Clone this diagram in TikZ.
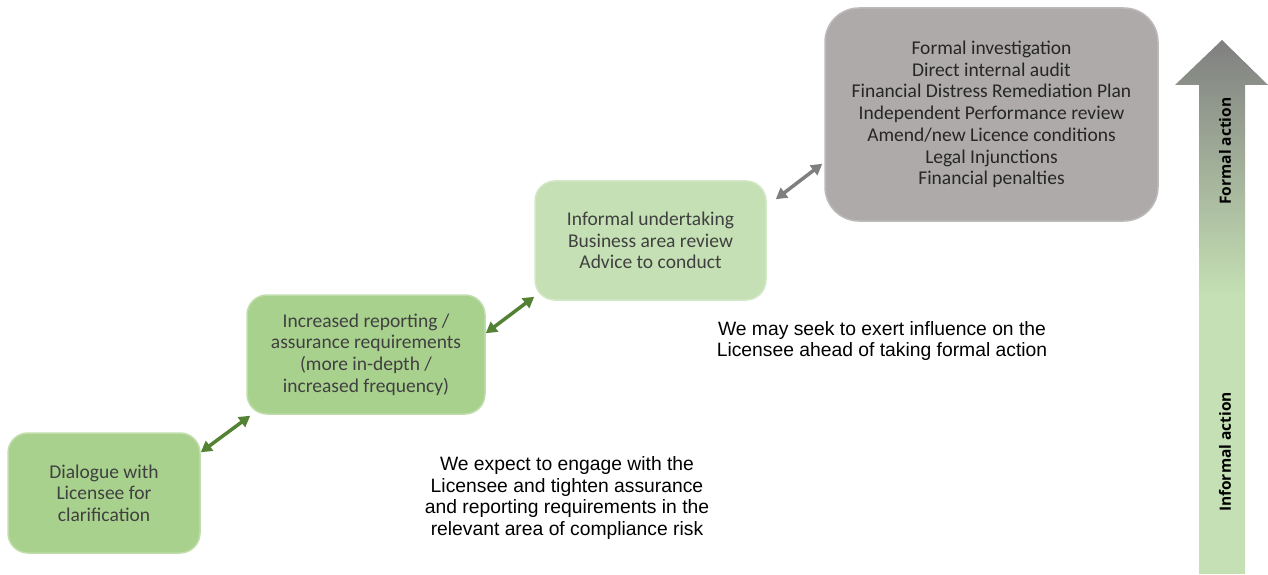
\documentclass[tikz,border=0pt]{standalone}
\usepackage{fontspec}
\setmainfont{Carlito}
\newfontfamily\notefont{Liberation Sans}
\newfontfamily\axisfont{Open Sans}
\usetikzlibrary{arrows.meta,calc}

\definecolor{stepgreen}{HTML}{A9D18E}
\definecolor{stepgreenedge}{HTML}{C0DDAB}
\definecolor{palegreen}{HTML}{C5E0B4}
\definecolor{palegreenedge}{HTML}{D3E8C6}
\definecolor{formalgrey}{HTML}{AEAAAA}
\definecolor{formalgreyedge}{HTML}{BDBABA}
\definecolor{linkgreen}{HTML}{548235}
\definecolor{linkgrey}{HTML}{7F7F7F}
\definecolor{boxtext}{HTML}{404040}

\tikzset{
  stagebox/.style={rounded corners=20pt, line width=1.5pt, inner sep=0pt,
    align=center, text=boxtext,
    font=\fontsize{19.5}{21.7}\selectfont},
  greenstage/.style={stagebox, fill=stepgreen, draw=stepgreenedge},
  palestage/.style={stagebox, fill=palegreen, draw=palegreenedge},
  greystage/.style={stagebox, fill=formalgrey, draw=formalgreyedge,
    rounded corners=34pt, text=black!85},
  link/.style={line width=3.5pt, {Triangle[length=11pt,width=12pt]}-{Triangle[length=11pt,width=12pt]}},
  note/.style={align=center, font=\notefont\fontsize{19.3}{21.8}\selectfont},
  axislabel/.style={rotate=90, font=\axisfont\bfseries\fontsize{15.5}{17}\selectfont}
}

\begin{document}
\begin{tikzpicture}[x=1pt,y=1pt]
\useasboundingbox (0,0) rectangle (1268,574);

% escalation stages
\node[greenstage, minimum width=192pt, minimum height=120pt] (b1) at (104,81)
  {Dialogue with\\Licensee for\\clarification};
\node[greenstage, minimum width=238pt, minimum height=119pt] (b2) at (366,219.5)
  {Increased reporting /\\assurance requirements\\(more in-depth /\\increased frequency)};
\node[palestage, minimum width=231pt, minimum height=119pt] (b3) at (650.5,333.5)
  {Informal undertaking\\Business area review\\Advice to conduct};
\node[greystage, minimum width=333pt, minimum height=213pt] (b4) at (991.5,459.5)
  {Formal investigation\\Direct internal audit\\Financial Distress Remediation Plan\\Independent\ Performance review\\Amend/new Licence conditions\\Legal Injunctions\\Financial penalties};

% links between stages
\draw[link, linkgreen] ([yshift=-20pt]b1.north east) -- ([xshift=4pt,yshift=-1pt]b2.south west);
\draw[link, linkgreen] ([yshift=-39pt]b2.north east) -- ([yshift=4pt]b3.south west);
\draw[link, linkgrey] ([xshift=9pt,yshift=-19pt]b3.north east) -- ([xshift=-2pt,yshift=58pt]b4.south west);

% commentary
\node[note] (n1) at (567,76) {We expect to engage with the\\Licensee and tighten assurance\\and reporting requirements in the\\relevant area of compliance risk};
\node[note] (n2) at (882,233) {We may seek to exert influence on the\\Licensee ahead of taking formal action};

% informal-to-formal scale arrow
\begin{scope}
  \clip (1199,0) -- (1199,489) -- (1175,489) -- (1222,534) -- (1268,489) -- (1245,489) -- (1245,0) -- cycle;
  \fill[palegreen] (1170,0) rectangle (1270,280);
  \shade[bottom color=palegreen, top color=linkgrey] (1170,279) rectangle (1270,535);
\end{scope}
\node[axislabel] (formal) at (1225,423) {Formal action};
\node[axislabel] (informal) at (1225,122) {Informal action};
\end{tikzpicture}
\end{document}
